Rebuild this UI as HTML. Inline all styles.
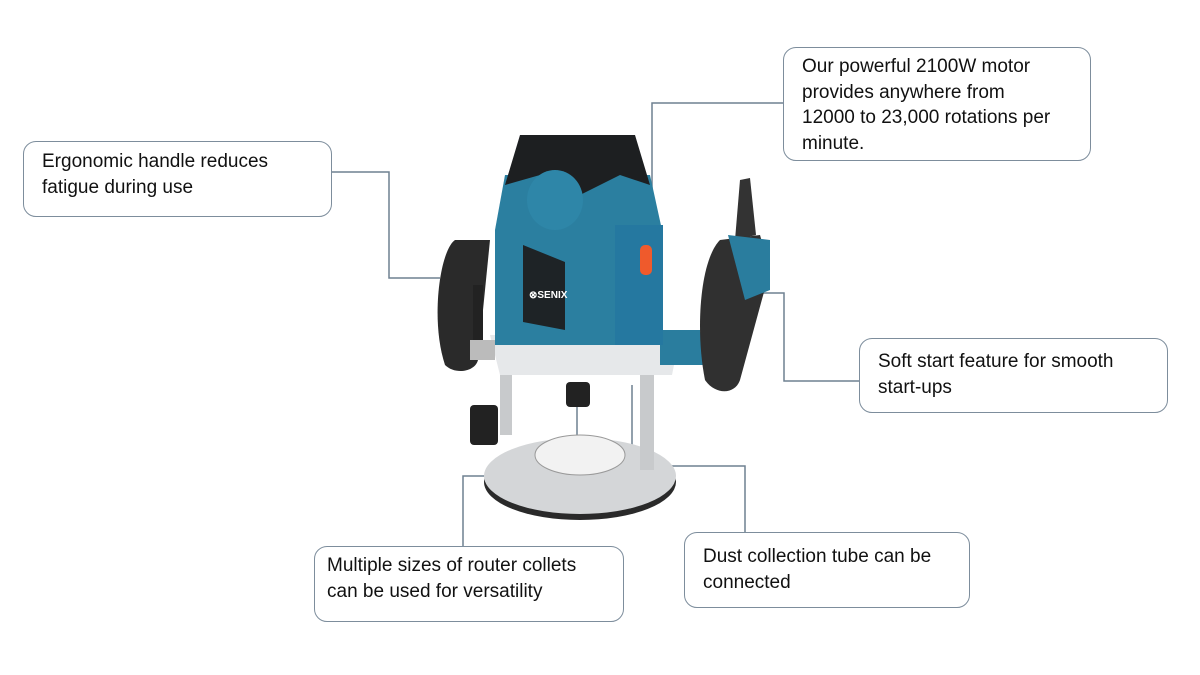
<!DOCTYPE html>
<html><head><style>
body{margin:0;width:1200px;height:675px;background:#fff;overflow:hidden;position:relative;font-family:"Liberation Sans",Arial,sans-serif;}
.b{position:absolute;border:1.5px solid #7d8d9c;border-radius:13px;box-sizing:border-box;font-size:19px;line-height:25.5px;color:#111;padding:7px 0 0 18px;background:#fff}
svg{position:absolute;left:0;top:0}
</style></head><body>
<svg width="1200" height="675">
<g fill="none" stroke="#6f8191" stroke-width="1.5">
<polyline points="331,172 389,172 389,278 440,278"/>
<polyline points="783,103 652,103 652,250"/>
<polyline points="859,381 784,381 784,293 712,293"/>
<polyline points="463,546 463,476 577,476 577,398"/>
<polyline points="745,532 745,466 632,466 632,385"/>
</g>
<!-- base -->
<ellipse cx="580" cy="482" rx="96" ry="38" fill="#2a2a2a"/>
<ellipse cx="580" cy="476" rx="96" ry="38" fill="#d4d6d8"/>
<ellipse cx="580" cy="455" rx="45" ry="20" fill="#f2f2f2" stroke="#999"/>
<rect x="470" y="405" width="28" height="40" rx="4" fill="#222"/>
<rect x="500" y="360" width="12" height="75" fill="#c8cacc"/>
<rect x="640" y="360" width="14" height="110" fill="#c8cacc"/>
<rect x="566" y="382" width="24" height="25" rx="4" fill="#222"/>
<!-- lower body -->
<path d="M490 335 L680 335 L672 375 L500 375 Z" fill="#e6e8ea"/>
<!-- handles -->
<path d="M455 240 C440 250 430 320 445 365 C455 375 475 372 478 360 L490 240 Z" fill="#2a2a2a"/>
<path d="M660 330 L700 330 L705 365 L660 365 Z" fill="#2a7d9e"/>
<path d="M720 240 C700 260 695 330 705 380 C715 395 735 395 740 380 L770 270 L760 235 Z" fill="#303030"/>
<path d="M740 180 L750 178 L756 235 L735 240 Z" fill="#333"/>
<path d="M728 235 L770 240 L770 290 L745 300 Z" fill="#2a7d9e"/>
<rect x="473" y="285" width="10" height="60" fill="#222"/>
<rect x="470" y="340" width="25" height="20" fill="#bbb"/>
<!-- main body -->
<path d="M505 175 L650 175 L662 230 L662 345 L495 345 L495 230 Z" fill="#2b7fa0"/>
<rect x="615" y="225" width="48" height="120" fill="#2578a0"/>
<path d="M523 245 L565 262 L565 330 L523 322 Z" fill="#1e2326"/>
<text x="529" y="298" font-size="10" font-weight="bold" fill="#fff" font-family="Liberation Sans">⊗SENIX</text>
<rect x="640" y="245" width="12" height="30" rx="5" fill="#ef5a2c"/>
<!-- top cap -->
<path d="M520 135 L635 135 L650 185 L620 175 L580 195 L540 175 L505 185 Z" fill="#1d1f21"/>
<ellipse cx="555" cy="200" rx="28" ry="30" fill="#2e86a8"/>
</svg>
<div class="b" style="left:23px;top:141px;width:309px;height:76px;padding-top:7px">Ergonomic handle reduces<br>fatigue during use</div>
<div class="b" style="left:783px;top:47px;width:308px;height:114px;padding-top:6px">Our powerful 2100W motor<br>provides anywhere from<br>12000 to 23,000 rotations per<br>minute.</div>
<div class="b" style="left:859px;top:338px;width:309px;height:75px;padding-top:10px">Soft start feature for smooth<br>start-ups</div>
<div class="b" style="left:314px;top:546px;width:310px;height:76px;padding-top:6px;padding-left:12px">Multiple sizes of router collets<br>can be used for versatility</div>
<div class="b" style="left:684px;top:532px;width:286px;height:76px;padding-top:11px">Dust collection tube can be<br>connected</div>
</body></html>
